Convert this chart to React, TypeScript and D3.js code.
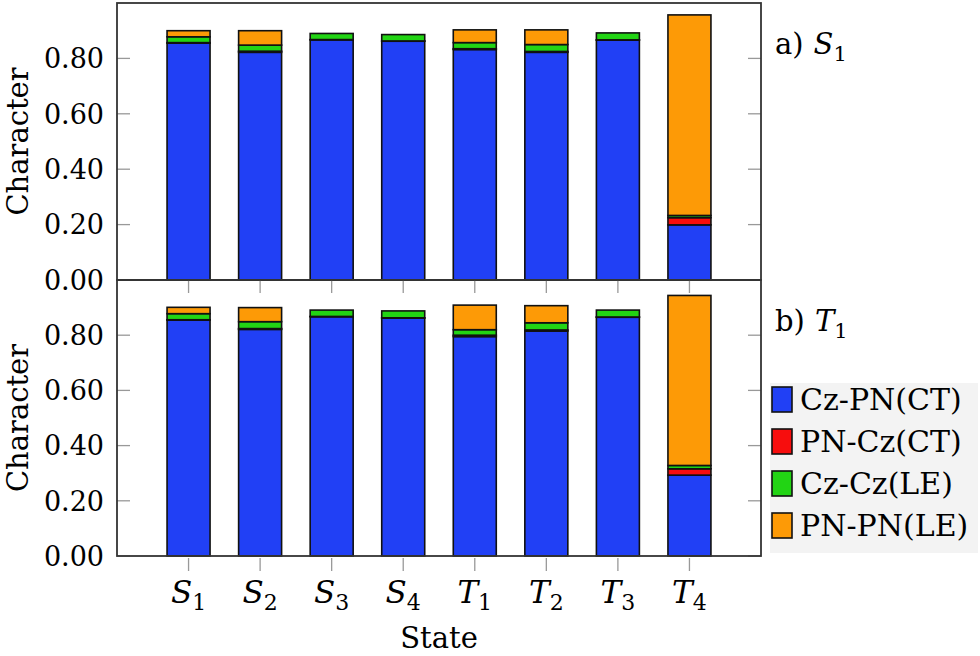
import * as d3 from "d3";

// states on the x axis (letter + subscript)
const states = ["S1", "S2", "S3", "S4", "T1", "T2", "T3", "T4"];
const keys = ["Cz-PN(CT)", "PN-Cz(CT)", "Cz-Cz(LE)", "PN-PN(LE)"];
const colors = ["#2140f5", "#f70d0d", "#22d414", "#fd9a06"];
const yTicks = [0, 0.2, 0.4, 0.6, 0.8];

// a) S1 panel
const s1CzPN = [0.855, 0.822, 0.867, 0.862, 0.832, 0.822, 0.866, 0.199];
const s1PNCz = [0.002, 0.004, 0.001, 0.001, 0.003, 0.003, 0.001, 0.026];
const s1CzCz = [0.021, 0.022, 0.022, 0.023, 0.022, 0.025, 0.025, 0.008];
const s1PNPN = [0.022, 0.052, 0.000, 0.000, 0.046, 0.053, 0.000, 0.724];

// b) T1 panel
const t1CzPN = [0.855, 0.821, 0.867, 0.862, 0.795, 0.815, 0.865, 0.293];
const t1PNCz = [0.001, 0.003, 0.001, 0.001, 0.005, 0.004, 0.001, 0.023];
const t1CzCz = [0.022, 0.025, 0.023, 0.025, 0.020, 0.026, 0.025, 0.012];
const t1PNPN = [0.023, 0.051, 0.000, 0.000, 0.089, 0.062, 0.000, 0.616];

const W = 980;
const H = 656;
const left = 117;
const right = 761;
const serif = { fontFamily: '"DejaVu Serif", serif' };

type Row = { [k: string]: number };

function rows(a: number[], b: number[], c: number[], d: number[]): Row[] {
  return states.map((_, i) => ({
    [keys[0]]: a[i],
    [keys[1]]: b[i],
    [keys[2]]: c[i],
    [keys[3]]: d[i],
  }));
}

const panels = [
  { top: 3, bottom: 280, data: rows(s1CzPN, s1PNCz, s1CzCz, s1PNPN), lab: "a)", sym: "S", sub: "1", xTicks: false },
  { top: 280, bottom: 556, data: rows(t1CzPN, t1PNCz, t1CzCz, t1PNPN), lab: "b)", sym: "T", sub: "1", xTicks: true },
];

const x = d3.scaleLinear().domain([-1, 8]).range([left, right]);
const barW = 43;
const stack = d3.stack<Row>().keys(keys);

function Panel({ p }: { p: (typeof panels)[number] }) {
  const y = d3.scaleLinear().domain([0, 1]).range([p.bottom, p.top]);
  const series = stack(p.data);
  const mid = (p.top + p.bottom) / 2;
  return (
    <g>
      {/* y ticks, inside on both sides */}
      {yTicks.map((t) => (
        <g key={t}>
          <line x1={left} x2={left + 13} y1={y(t)} y2={y(t)} stroke="#999" strokeWidth={1.3} />
          <line x1={right - 13} x2={right} y1={y(t)} y2={y(t)} stroke="#999" strokeWidth={1.3} />
          <text x={104} y={y(t)} dy="0.36em" textAnchor="end" fontSize={27} style={serif}>
            {t.toFixed(2)}
          </text>
        </g>
      ))}
      {p.xTicks &&
        states.map((s, i) => (
          <g key={s}>
            <line x1={x(i)} x2={x(i)} y1={p.top} y2={p.top + 13} stroke="#999" strokeWidth={1.3} />
            <line x1={x(i)} x2={x(i)} y1={p.bottom + 2} y2={p.bottom + 15} stroke="#999" strokeWidth={1.3} />
          </g>
        ))}
      {series.map((s, k) =>
        s.map((d, i) =>
          d[1] - d[0] > 0 ? (
            <rect
              key={k + "-" + i}
              x={x(i) - barW / 2}
              y={y(d[1])}
              width={barW}
              height={y(d[0]) - y(d[1])}
              fill={colors[k]}
              stroke="#111"
              strokeWidth={1.6}
            />
          ) : null
        )
      )}
      <rect x={left} y={p.top} width={right - left} height={p.bottom - p.top} fill="none" stroke="#333" strokeWidth={1.8} />
      <text transform={`translate(28,${mid}) rotate(-90)`} textAnchor="middle" fontSize={29} style={serif}>
        Character
      </text>
      <text x={775} y={p.top + 51} fontSize={29} style={serif}>
        {p.lab}
        <tspan dx={10} fontStyle="italic">{p.sym}</tspan>
        <tspan fontSize={21} dy={7}>{p.sub}</tspan>
      </text>
    </g>
  );
}

export default function App() {
  return (
    <svg width={W} height={H} style={{ display: "block", position: "absolute", left: 0, top: 0, background: "#fff" }}>
      {panels.map((p, i) => (
        <Panel key={i} p={p} />
      ))}
      {states.map((s, i) => (
        <text key={s} x={x(i)} y={603} textAnchor="middle" fontSize={31} style={serif}>
          <tspan fontStyle="italic">{s[0]}</tspan>
          <tspan fontSize={22} dy={7}>{s.slice(1)}</tspan>
        </text>
      ))}
      <text x={(left + right) / 2} y={648} textAnchor="middle" fontSize={29} style={serif}>
        State
      </text>
      {/* legend */}
      <rect x={770} y={383} width={208} height={170} fill="#f3f3f3" />
      {keys.map((k, i) => (
        <g key={k} transform={`translate(0,${399 + i * 42})`}>
          <rect x={772} y={-12} width={20} height={25} fill={colors[i]} stroke="#111" strokeWidth={1.6} />
          <text x={800} y={11} fontSize={30} style={serif}>
            {k}
          </text>
        </g>
      ))}
    </svg>
  );
}
